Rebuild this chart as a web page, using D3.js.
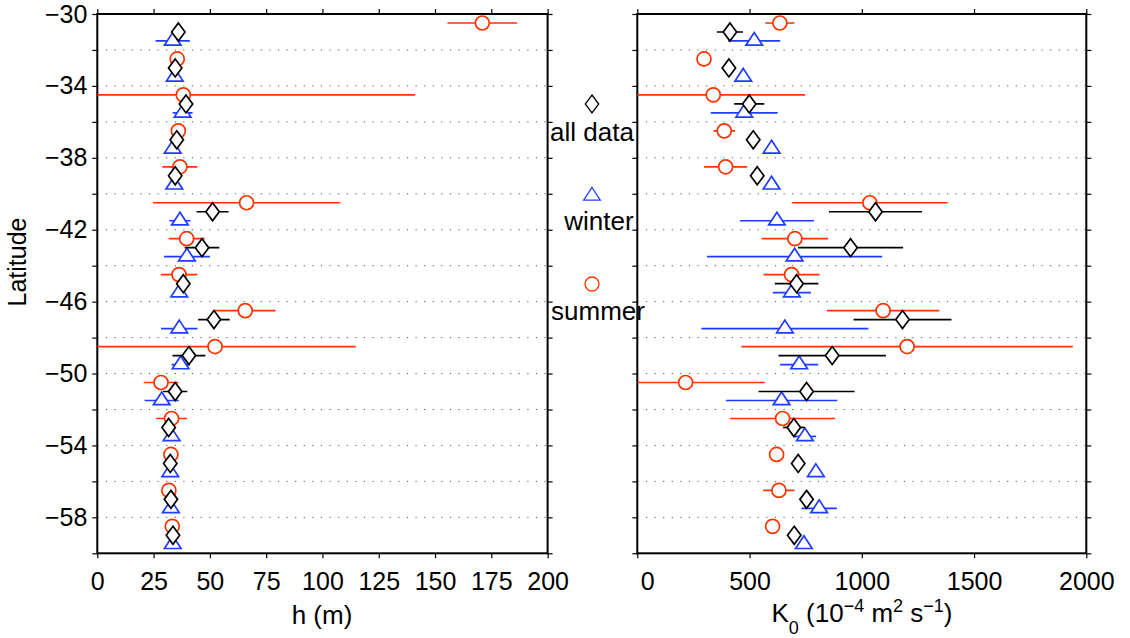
<!DOCTYPE html>
<html>
<head>
<meta charset="utf-8">
<script src="https://cdn.jsdelivr.net/npm/d3@7"></script>
<style>
  html, body { margin: 0; padding: 0; background: #fff; }
  svg { display: block; font-family: "Liberation Sans", Arial, Helvetica, sans-serif; }
</style>
</head>
<body>
<svg id="chart" width="1130" height="638"></svg>
<script>
// Latitude bands (band centres, degrees)
const latitudes = [-31, -33, -35, -37, -39, -41, -43, -45, -47, -49, -51, -53, -55, -57, -59];

// Mixed-layer depth h (m)
const hAll      = [36.0, 34.6, 39.4, 35.3, 34.6, 51.2, 46.5, 38.2, 51.8, 40.7, 34.6, 31.7, 32.4, 32.7, 33.6];
const hAllErr   = [2, 2, 2, 2, 2, 7.1, 7.7, 2, 7.0, 7.3, 5.4, 2, 2, 2, 2];
const hWinter   = [33.5, 34.4, 37.9, 33.5, 34.2, 36.7, 39.8, 36.4, 36.4, 37.0, 28.6, 33.0, 32.4, 32.7, 33.5];
const hWinterErr= [7.6, 2, 4.4, 2, 2, 4.7, 10.2, 2, 8.1, 4.0, 7.6, 2, 2, 2, 2];
const hSummer   = [171, 35.5, 38.2, 36.0, 36.7, 66.3, 39.7, 36.3, 65.7, 52.3, 28.3, 33.0, 32.7, 31.8, 33.3];
const hSummerErr= [15.5, 2, 103, 2, 7.8, 41.6, 8.0, 8.1, 13.5, 62.5, 7.7, 6.9, 2, 2, 2];

// Diffusivity K0 (1e-4 m^2 s^-1)
const kAll      = [412.6, 408, 498.6, 516.4, 534.2, 1061, 949.9, 709.5, 1181.3, 868, 754, 697.5, 716.7, 754, 698.9];
const kAllErr   = [58, 20, 67, 20, 20, 207, 234, 97, 218, 239, 214, 48, 20, 20, 20];
const kWinter   = [520.8, 471.9, 476.3, 598.2, 598, 621.9, 700.6, 688.6, 657.5, 721, 642.7, 746.5, 795.5, 810.2, 742];
const kWinterErr= [116, 20, 149, 20, 20, 165, 390, 85, 372, 85, 248, 50, 20, 79, 20];
const kSummer   = [635, 297, 338.4, 387.3, 393.4, 1035.8, 702, 687.2, 1095, 1201.9, 215.2, 647.1, 620.5, 630.8, 602.7];
const kSummerErr= [65, 20, 409, 48, 96, 347, 148, 125, 250, 738, 353, 234, 20, 70, 20];

// Axis ticks
const hTicks = [0, 25, 50, 75, 100, 125, 150, 175, 200];
const kTicks = [0, 500, 1000, 1500, 2000];
const latTicks = d3.range(-60, -29, 2);
const latLabels = [-30, -34, -38, -42, -46, -50, -54, -58];

const seriesNames = ["all data", "winter", "summer"];

const svg = d3.select("#chart");
const FONT = 25;
const fmt = d3.format("d");

const y = d3.scaleLinear().domain([-60, -30]).range([553.3, 14]);

// Marker shapes
const diamondPath = "M0,-9L6.7,0L0,9L-6.7,0Z";
const trianglePath = "M0,-8.5L8.3,4.2L-8.3,4.2Z";

const styles = {
  "all data": { color: "#000000", shape: "diamond", offset: 0 },
  "winter":   { color: "#1f3cff", shape: "triangle", offset: -0.5 },
  "summer":   { color: "#ff3300", shape: "circle", offset: 0.5 }
};

function drawMarker(g, shape, color) {
  if (shape === "circle") {
    g.append("circle").attr("r", 7).attr("fill", "#fff").attr("stroke", color).attr("stroke-width", 1.7);
  } else {
    g.append("path").attr("d", shape === "diamond" ? diamondPath : trianglePath)
      .attr("fill", "#fff").attr("stroke", color).attr("stroke-width", 1.7)
      .attr("stroke-linejoin", "miter");
  }
}

function panel(id, x, ticks, data, showLatLabels) {
  const [x0, x1] = x.range();
  const [yb, yt] = y.range();
  const g = svg.append("g").attr("class", "panel-" + id);

  g.append("clipPath").attr("id", "clip-" + id)
    .append("rect").attr("x", x0).attr("y", yt).attr("width", x1 - x0).attr("height", yb - yt);

  // dotted latitude grid
  g.append("g").selectAll("line")
    .data(latTicks.filter(d => d > -60 && d < -30))
    .join("line")
    .attr("x1", x0).attr("x2", x1)
    .attr("y1", d => y(d)).attr("y2", d => y(d))
    .attr("stroke", "#555").attr("stroke-width", 1)
    .attr("stroke-dasharray", "1.2,7.4");

  // axes
  const bottom = g.append("g").attr("transform", `translate(0,${yb})`)
    .call(d3.axisBottom(x).tickValues(ticks).tickFormat(fmt).tickSize(5).tickPadding(14).tickSizeOuter(0));
  bottom.selectAll("text").attr("font-size", FONT).attr("fill", "#000").attr("font-family", null);
  if (id === "k") {
    bottom.selectAll(".tick text").filter(d => d === 0).attr("dx", 10);
  }
  g.append("g").attr("transform", `translate(0,${yt})`)
    .call(d3.axisTop(x).tickValues(ticks).tickSize(5).tickFormat("").tickSizeOuter(0));
  const left = g.append("g").attr("transform", `translate(${x0},0)`)
    .call(d3.axisLeft(y).tickValues(latTicks).tickSize(5).tickPadding(5).tickSizeOuter(0)
      .tickFormat(d => showLatLabels && latLabels.includes(d) ? fmt(d) : ""));
  left.selectAll("text").attr("font-size", FONT).attr("fill", "#000").attr("font-family", null);
  g.append("g").attr("transform", `translate(${x1},0)`)
    .call(d3.axisRight(y).tickValues(latTicks).tickSize(5).tickFormat("").tickSizeOuter(0));
  g.selectAll(".domain").remove();
  g.selectAll(".tick line").attr("stroke", "#000").attr("stroke-width", 1.2);

  // frame
  g.append("rect").attr("x", x0).attr("y", yt).attr("width", x1 - x0).attr("height", yb - yt)
    .attr("fill", "none").attr("stroke", "#000").attr("stroke-width", 2);

  // error bars and markers
  const plot = g.append("g").attr("clip-path", `url(#clip-${id})`);
  ["summer", "winter", "all data"].forEach(name => {
    const st = styles[name];
    const vals = data[name][0], errs = data[name][1];
    const pts = latitudes.map((lat, i) => ({ lat: lat + st.offset, v: vals[i], e: errs[i] }));
    const sg = plot.append("g");
    sg.selectAll("line").data(pts).join("line")
      .attr("x1", d => x(d.v - d.e)).attr("x2", d => x(d.v + d.e))
      .attr("y1", d => y(d.lat)).attr("y2", d => y(d.lat))
      .attr("stroke", st.color).attr("stroke-width", 1.7);
    sg.selectAll("g.m").data(pts).join("g").attr("class", "m")
      .attr("transform", d => `translate(${x(d.v)},${y(d.lat)})`)
      .each(function () { drawMarker(d3.select(this), st.shape, st.color); });
  });
}

panel("h", d3.scaleLinear().domain([0, 200]).range([97.3, 547.6]), hTicks, {
  "all data": [hAll, hAllErr], "winter": [hWinter, hWinterErr], "summer": [hSummer, hSummerErr]
}, true);

panel("k", d3.scaleLinear().domain([0, 2000]).range([637.3, 1086.3]), kTicks, {
  "all data": [kAll, kAllErr], "winter": [kWinter, kWinterErr], "summer": [kSummer, kSummerErr]
}, false);

// axis titles
svg.append("text").attr("x", 322).attr("y", 624).attr("text-anchor", "middle")
  .attr("font-size", 26).text("h (m)");

const kt = svg.append("text").attr("x", 862).attr("y", 622).attr("text-anchor", "middle").attr("font-size", 26);
kt.append("tspan").text("K");
kt.append("tspan").attr("font-size", 18).attr("dy", 12).text("0");
kt.append("tspan").attr("dy", -12).text(" (10");
kt.append("tspan").attr("font-size", 18).attr("dy", -10).text("\u22124");
kt.append("tspan").attr("dy", 10).text(" m");
kt.append("tspan").attr("font-size", 18).attr("dy", -10).text("2");
kt.append("tspan").attr("dy", 10).text(" s");
kt.append("tspan").attr("font-size", 18).attr("dy", -10).text("\u22121");
kt.append("tspan").attr("dy", 10).text(")");

svg.append("text").attr("transform", "translate(26,262) rotate(-90)")
  .attr("text-anchor", "middle").attr("font-size", 25).text("Latitude");

// legend between panels
const legendPos = {
  "all data": { mx: 592, my: 104, tx: 592, ty: 141 },
  "winter":   { mx: 592, my: 196, tx: 599, ty: 230 },
  "summer":   { mx: 592, my: 284, tx: 598, ty: 320 }
};
seriesNames.forEach(name => {
  const p = legendPos[name], st = styles[name];
  const mg = svg.append("g").attr("transform", `translate(${p.mx},${p.my})`);
  drawMarker(mg, st.shape, st.color);
  mg.selectAll("circle, path").attr("stroke-width", 1.3);
  svg.append("text").attr("x", p.tx).attr("y", p.ty).attr("text-anchor", "middle")
    .attr("font-size", 26).text(name);
});
</script>
</body>
</html>
